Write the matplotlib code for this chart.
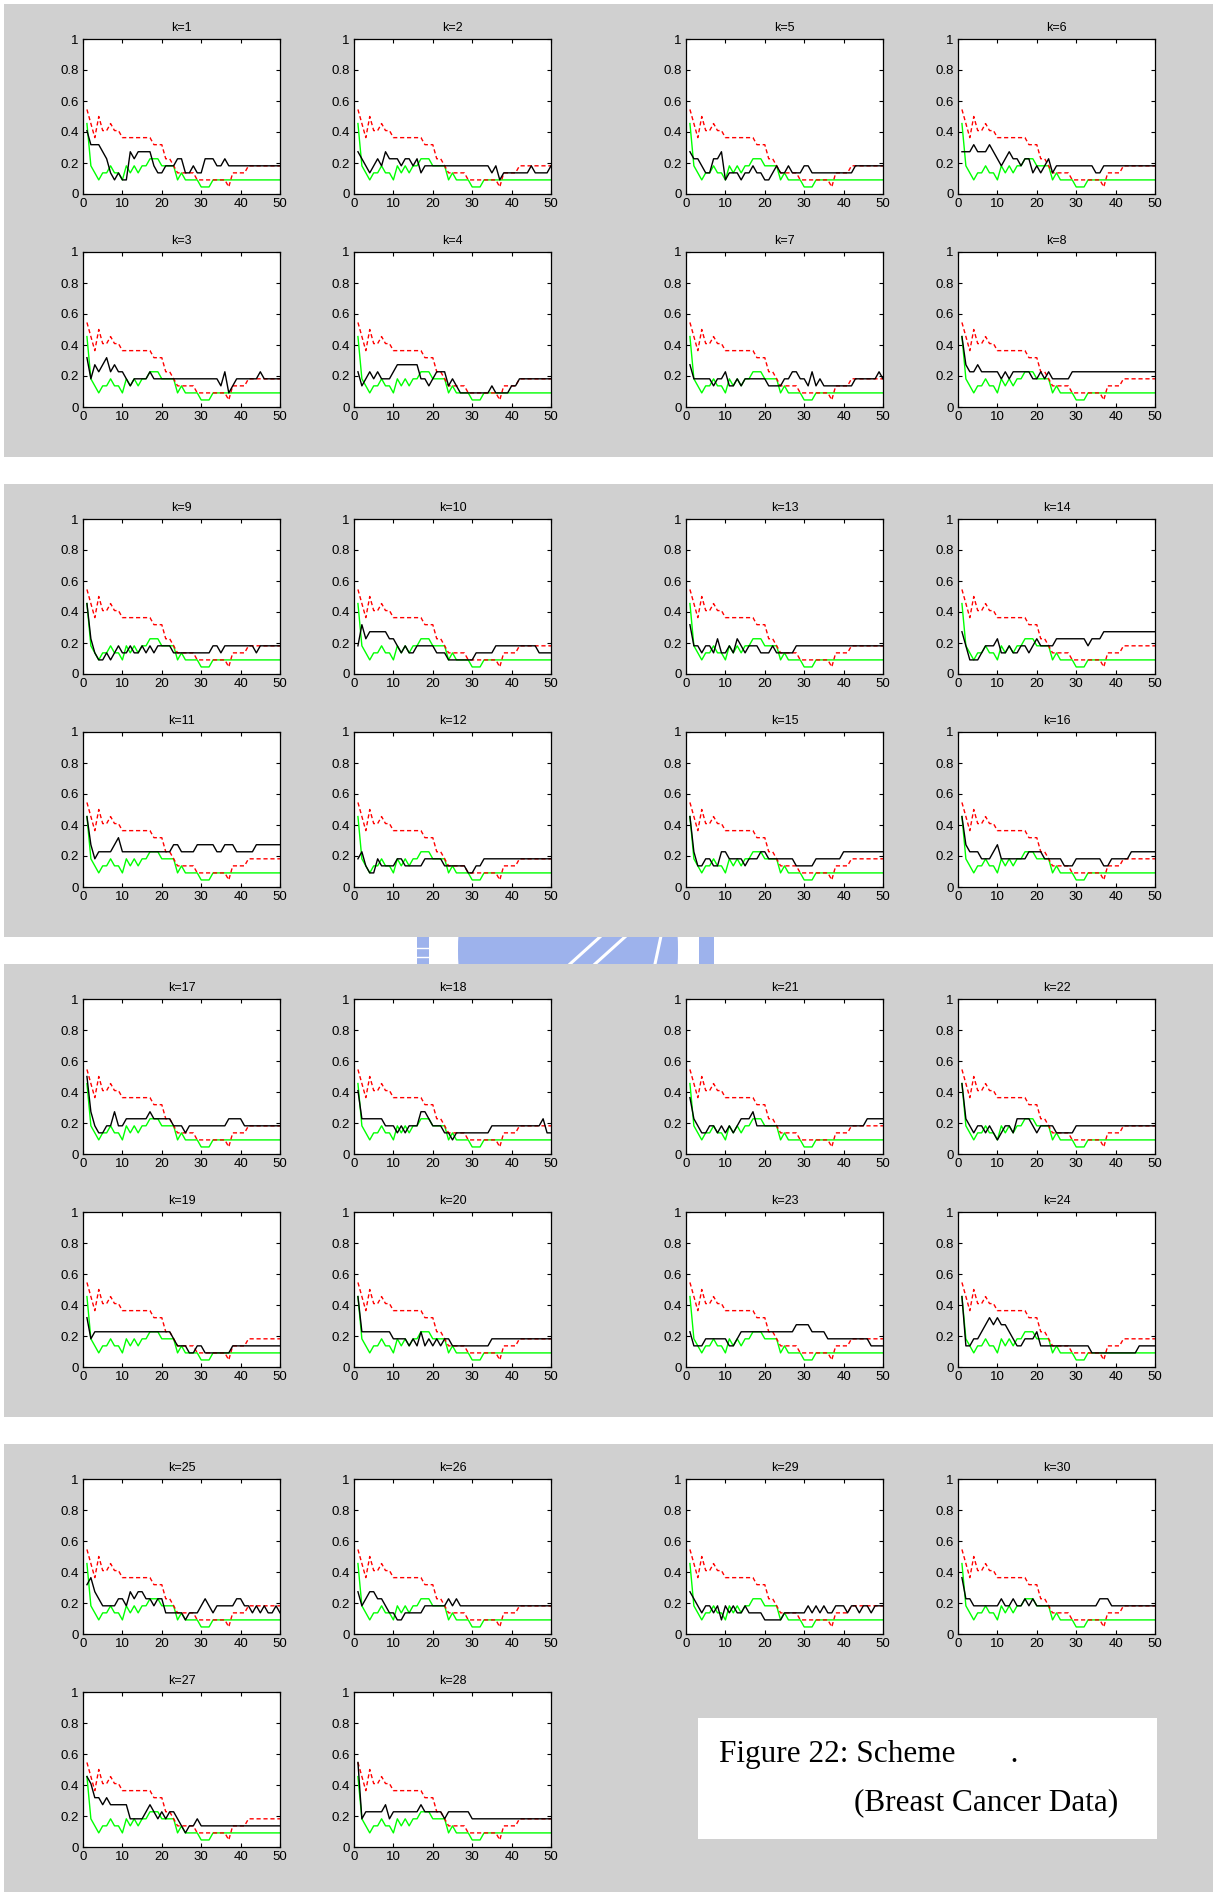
import matplotlib
matplotlib.use("Agg")
import matplotlib.pyplot as plt
from matplotlib.patches import Rectangle, Circle
from matplotlib.lines import Line2D

W, H = 1213, 1892
plt.rcParams['font.family'] = ['Liberation Sans', 'DejaVu Sans']

# error counts out of 22 test samples, for iterations 1..50
n_test = 22
iters = list(range(1, 51))

green_err = [10, 4, 3, 2, 3, 3, 4, 3, 3, 2, 4, 3, 4, 3, 4, 4, 5, 5, 5, 4,
             4, 4, 4, 2, 3, 2, 2, 2, 2, 1, 1, 1, 2, 2, 2, 2, 2, 2, 2, 2,
             2, 2, 2, 2, 2, 2, 2, 2, 2, 2]
red_err = [12, 10, 8, 11, 9, 9, 10, 9, 9, 8, 8, 8, 8, 8, 8, 8, 8, 7, 7, 7,
           5, 5, 4, 3, 3, 3, 3, 3, 2, 2, 2, 2, 2, 2, 2, 2, 1, 3, 3, 3,
           3, 4, 4, 4, 4, 4, 4, 4, 4, 4]

black_err = {
    1: [9, 7, 7, 7, 6, 5, 3, 2, 3, 2, 2, 6, 5, 6, 6, 6, 6, 4, 3, 3,
        4, 4, 4, 5, 5, 3, 3, 4, 3, 3, 5, 5, 5, 4, 4, 5, 4, 4, 4, 4,
        4, 4, 4, 4, 4, 4, 4, 4, 4, 4],
    2: [6, 5, 4, 3, 4, 5, 4, 6, 5, 5, 5, 4, 5, 5, 4, 5, 3, 4, 4, 4,
        4, 4, 4, 4, 4, 4, 4, 4, 4, 4, 4, 4, 4, 4, 3, 4, 2, 3, 3, 3,
        3, 3, 3, 3, 4, 3, 3, 3, 3, 4],
    3: [7, 4, 6, 5, 6, 7, 5, 6, 5, 5, 4, 3, 4, 4, 4, 4, 5, 4, 4, 4,
        4, 4, 4, 4, 4, 4, 4, 4, 4, 4, 4, 4, 4, 4, 3, 5, 2, 3, 4, 4,
        4, 4, 4, 4, 5, 4, 4, 4, 4, 4],
    4: [5, 3, 4, 5, 4, 5, 4, 4, 4, 5, 6, 6, 6, 6, 6, 6, 4, 4, 3, 4,
        5, 5, 5, 3, 4, 3, 2, 2, 2, 2, 2, 2, 2, 2, 3, 2, 2, 2, 2, 3,
        3, 4, 4, 4, 4, 4, 4, 4, 4, 4],
    5: [6, 5, 5, 4, 3, 3, 5, 5, 6, 2, 3, 3, 3, 2, 3, 3, 4, 3, 3, 2,
        2, 3, 4, 3, 3, 4, 3, 3, 3, 4, 4, 3, 3, 3, 3, 3, 3, 3, 3, 3,
        3, 3, 4, 4, 4, 4, 4, 4, 4, 4],
    6: [6, 6, 6, 7, 6, 6, 6, 7, 6, 5, 4, 5, 6, 5, 5, 4, 5, 5, 3, 4,
        3, 4, 5, 3, 4, 4, 4, 4, 4, 4, 4, 4, 4, 4, 3, 3, 4, 4, 4, 4,
        4, 4, 4, 4, 4, 4, 4, 4, 4, 4],
    7: [6, 4, 4, 4, 4, 4, 3, 4, 4, 5, 3, 3, 4, 3, 4, 4, 4, 4, 4, 4,
        3, 3, 3, 3, 4, 4, 5, 5, 4, 4, 3, 5, 3, 4, 3, 3, 3, 3, 3, 3,
        3, 3, 4, 4, 4, 4, 4, 4, 5, 4],
    8: [10, 6, 5, 5, 6, 5, 5, 5, 5, 5, 4, 5, 4, 5, 5, 5, 5, 5, 4, 4,
        5, 4, 5, 4, 4, 4, 4, 4, 5, 5, 5, 5, 5, 5, 5, 5, 5, 5, 5, 5,
        5, 5, 5, 5, 5, 5, 5, 5, 5, 5],
    9: [10, 5, 3, 2, 2, 3, 2, 3, 4, 3, 3, 4, 3, 3, 4, 3, 4, 3, 4, 4,
        4, 4, 3, 3, 3, 3, 3, 3, 3, 3, 3, 3, 4, 4, 3, 4, 4, 4, 4, 4,
        4, 4, 4, 3, 4, 4, 4, 4, 4, 4],
    10: [4, 7, 5, 6, 6, 6, 6, 6, 5, 5, 4, 3, 4, 3, 3, 4, 4, 4, 4, 4,
         3, 3, 3, 2, 2, 2, 2, 2, 2, 2, 3, 3, 3, 3, 3, 4, 4, 4, 4, 4,
         4, 4, 4, 4, 4, 4, 3, 3, 3, 3],
    11: [10, 6, 4, 5, 5, 5, 5, 6, 7, 5, 5, 5, 5, 5, 5, 5, 5, 5, 5, 5,
         5, 5, 6, 6, 5, 5, 5, 5, 6, 6, 6, 6, 6, 5, 5, 6, 6, 6, 5, 5,
         5, 5, 5, 6, 6, 6, 6, 6, 6, 6],
    12: [4, 5, 3, 2, 2, 4, 3, 3, 3, 3, 4, 4, 3, 3, 3, 3, 3, 4, 4, 4,
         4, 4, 3, 3, 3, 3, 3, 3, 2, 2, 3, 3, 4, 4, 4, 4, 4, 4, 4, 4,
         4, 4, 4, 4, 4, 4, 4, 4, 4, 4],
    13: [7, 4, 4, 3, 4, 4, 3, 5, 3, 3, 4, 3, 5, 4, 3, 4, 4, 4, 3, 3,
         3, 4, 3, 3, 3, 3, 3, 4, 4, 4, 4, 4, 4, 4, 4, 4, 4, 4, 4, 4,
         4, 4, 4, 4, 4, 4, 4, 4, 4, 4],
    14: [6, 4, 2, 2, 2, 3, 4, 4, 4, 5, 3, 3, 4, 3, 3, 4, 4, 3, 4, 5,
         4, 4, 4, 4, 5, 5, 5, 5, 5, 5, 5, 5, 4, 5, 5, 5, 6, 6, 6, 6,
         6, 6, 6, 6, 6, 6, 6, 6, 6, 6],
    15: [10, 5, 3, 3, 4, 4, 3, 3, 5, 5, 4, 4, 4, 4, 3, 4, 4, 4, 5, 5,
         4, 4, 4, 4, 4, 4, 4, 3, 3, 3, 3, 3, 4, 4, 4, 4, 4, 4, 4, 5,
         5, 5, 5, 5, 5, 5, 5, 5, 5, 5],
    16: [10, 6, 5, 5, 5, 4, 4, 4, 5, 6, 4, 4, 4, 4, 4, 4, 4, 5, 5, 5,
         5, 4, 4, 4, 4, 4, 3, 3, 3, 4, 4, 4, 4, 4, 4, 4, 3, 3, 4, 4,
         4, 4, 4, 5, 5, 5, 5, 5, 5, 5],
    17: [11, 6, 4, 3, 3, 4, 4, 6, 4, 4, 5, 5, 5, 5, 5, 5, 6, 5, 5, 5,
         5, 5, 4, 4, 4, 3, 4, 4, 4, 4, 4, 4, 4, 4, 4, 4, 5, 5, 5, 5,
         4, 4, 4, 4, 4, 4, 4, 4, 4, 4],
    18: [9, 5, 5, 5, 5, 5, 5, 4, 4, 4, 3, 4, 3, 4, 4, 4, 6, 6, 5, 4,
         4, 4, 3, 3, 2, 3, 3, 3, 3, 3, 3, 3, 3, 3, 4, 4, 4, 4, 4, 4,
         4, 4, 4, 4, 4, 4, 4, 5, 3, 3],
    19: [7, 4, 5, 5, 5, 5, 5, 5, 5, 5, 5, 5, 5, 5, 5, 5, 5, 5, 5, 5,
         5, 5, 4, 3, 3, 3, 2, 2, 3, 3, 2, 2, 2, 2, 2, 2, 2, 3, 3, 3,
         3, 3, 3, 3, 3, 3, 3, 3, 3, 3],
    20: [10, 5, 5, 5, 5, 5, 5, 5, 5, 4, 4, 4, 4, 3, 4, 3, 5, 3, 4, 3,
         4, 3, 4, 4, 3, 3, 3, 3, 3, 3, 3, 3, 3, 3, 4, 4, 4, 4, 4, 4,
         4, 4, 4, 4, 4, 4, 4, 4, 4, 4],
    21: [8, 5, 4, 3, 3, 4, 4, 3, 4, 3, 4, 3, 4, 5, 5, 5, 6, 4, 4, 4,
         4, 4, 4, 4, 4, 4, 4, 4, 4, 4, 4, 4, 4, 4, 4, 4, 4, 4, 4, 4,
         4, 4, 4, 4, 4, 5, 5, 5, 5, 5],
    22: [10, 5, 4, 3, 4, 4, 3, 4, 3, 2, 3, 4, 4, 3, 5, 5, 5, 5, 4, 3,
         4, 4, 4, 4, 3, 3, 3, 3, 3, 4, 4, 4, 4, 4, 4, 4, 4, 4, 4, 4,
         4, 4, 4, 4, 4, 4, 4, 4, 4, 4],
    23: [5, 3, 3, 3, 4, 4, 4, 4, 4, 4, 3, 3, 4, 5, 5, 5, 5, 5, 5, 5,
         5, 5, 5, 5, 5, 5, 5, 6, 6, 6, 6, 5, 5, 5, 5, 4, 4, 4, 4, 4,
         4, 4, 4, 4, 4, 4, 3, 3, 3, 3],
    24: [10, 3, 3, 4, 4, 5, 6, 7, 6, 7, 6, 6, 5, 4, 3, 3, 4, 4, 4, 5,
         3, 3, 3, 3, 3, 3, 3, 3, 3, 3, 3, 3, 3, 2, 2, 2, 2, 2, 2, 2,
         2, 2, 2, 2, 2, 3, 3, 3, 3, 3],
    25: [7, 8, 6, 5, 4, 4, 4, 4, 5, 5, 4, 6, 5, 6, 6, 5, 5, 4, 5, 5,
         3, 3, 3, 3, 3, 2, 3, 3, 3, 4, 5, 4, 3, 4, 4, 4, 4, 4, 5, 5,
         4, 4, 3, 4, 3, 4, 3, 3, 4, 3],
    26: [6, 4, 5, 6, 6, 5, 5, 4, 3, 3, 2, 2, 3, 3, 3, 3, 3, 4, 4, 4,
         4, 4, 4, 5, 4, 5, 4, 4, 4, 4, 4, 4, 4, 4, 4, 4, 4, 4, 4, 4,
         4, 4, 4, 4, 4, 4, 4, 4, 4, 4],
    27: [10, 9, 7, 7, 6, 7, 6, 6, 6, 6, 6, 4, 4, 4, 4, 5, 6, 5, 4, 5,
         4, 5, 5, 4, 3, 2, 3, 3, 4, 3, 3, 3, 3, 3, 3, 3, 3, 3, 3, 3,
         3, 3, 3, 3, 3, 3, 3, 3, 3, 3],
    28: [12, 4, 5, 5, 5, 5, 5, 6, 4, 5, 5, 5, 5, 5, 5, 5, 6, 5, 5, 5,
         5, 5, 4, 5, 5, 5, 5, 5, 5, 4, 4, 4, 4, 4, 4, 4, 4, 4, 4, 4,
         4, 4, 4, 4, 4, 4, 4, 4, 4, 4],
    29: [6, 5, 4, 3, 4, 4, 3, 4, 2, 4, 3, 4, 3, 3, 4, 3, 3, 3, 3, 2,
         2, 2, 2, 2, 3, 3, 3, 3, 3, 3, 4, 3, 4, 3, 4, 3, 3, 4, 4, 4,
         3, 4, 4, 3, 4, 4, 3, 4, 4, 4],
    30: [8, 5, 5, 4, 4, 4, 4, 4, 4, 4, 5, 4, 4, 5, 4, 4, 5, 4, 5, 4,
         4, 4, 4, 4, 4, 4, 4, 4, 4, 4, 4, 4, 4, 4, 4, 5, 5, 5, 4, 4,
         4, 4, 4, 4, 4, 4, 4, 4, 4, 4],
}

xticks = [0, 10, 20, 30, 40, 50]
yticks = [0, 0.2, 0.4, 0.6, 0.8, 1]
ytick_labels = ['0', '0.2', '0.4', '0.6', '0.8', '1']

caption_1 = 'Figure 22: Scheme       .'
caption_2 = '(Breast Cancer Data)'

fig = plt.figure(figsize=(W / 100, H / 100), dpi=100)
fig.patch.set_facecolor('white')


def fx(px):
    return px / W


def fy(py):
    return 1 - py / H


def px_rect(left, top, width, height, color, z=-5):
    fig.add_artist(Rectangle((fx(left), fy(top + height)), width / W, height / H,
                             transform=fig.transFigure, facecolor=color,
                             edgecolor='none', zorder=z))


def px_axes(left, top, width, height):
    return fig.add_axes([fx(left), fy(top + height), width / W, height / H])


# faint emblem behind the grey panels, only its middle strip shows in the gap
logo_blue = '#9db2ec'
px_rect(417, 890, 12, 120, logo_blue, z=-8)
px_rect(699, 890, 15, 120, logo_blue, z=-8)
disc = Circle((fx(568), fy(950)), 110 / W, transform=fig.transFigure,
              facecolor=logo_blue, edgecolor='none', zorder=-8)
fig.add_artist(disc)
for x0, x1 in [(570, 601), (595, 626), (655, 661)]:
    fig.add_artist(Line2D([fx(x0), fx(x1)], [fy(964), fy(936)], color='white',
                          lw=2.2, transform=fig.transFigure, zorder=-7))
for yy in (948, 957):
    fig.add_artist(Line2D([fx(416), fx(430)], [fy(yy), fy(yy)], color='white',
                          lw=1.0, transform=fig.transFigure, zorder=-7))

block_tops = [4, 484, 964, 1444]
col_left = [83, 354, 686, 958]
row_off = [35, 248]
aw, ah = 197, 155

for b, top in enumerate(block_tops):
    px_rect(4, top, W - 4, 453, '#d0d0d0')
    for g in range(2):
        for r in range(2):
            for c in range(2):
                k = 8 * b + 4 * g + 2 * r + c + 1
                if k not in black_err:
                    continue
                ax = px_axes(col_left[2 * g + c], top + row_off[r], aw, ah)
                ax.plot(iters, [v / n_test for v in green_err], color='#00ff00', lw=1.0)
                ax.plot(iters, [v / n_test for v in red_err], color='#ff0000', lw=1.0,
                        linestyle=(0, (3, 2)))
                ax.plot(iters, [v / n_test for v in black_err[k]], color='black', lw=1.0)
                ax.set_xlim(0, 50)
                ax.set_ylim(0, 1)
                ax.set_xticks(xticks)
                ax.set_yticks(yticks)
                ax.set_yticklabels(ytick_labels)
                ax.tick_params(direction='in', length=3, width=0.8, top=True, right=True,
                               labelsize=9.5, pad=3, colors='black')
                for s in ax.spines.values():
                    s.set_linewidth(0.9)
                ax.set_title(f'k={k}', fontsize=9, pad=6)

# caption box in the empty slot of the last block
px_rect(698, 1718, 459, 121, 'white')
fig.text(fx(719), fy(1762), caption_1, fontfamily='Liberation Serif',
         fontsize=22.5, va='baseline', ha='left')
fig.text(fx(1118), fy(1810), caption_2, fontfamily='Liberation Serif',
         fontsize=22.5, va='baseline', ha='right')

fig.savefig('out.png', dpi=100, facecolor='white')
